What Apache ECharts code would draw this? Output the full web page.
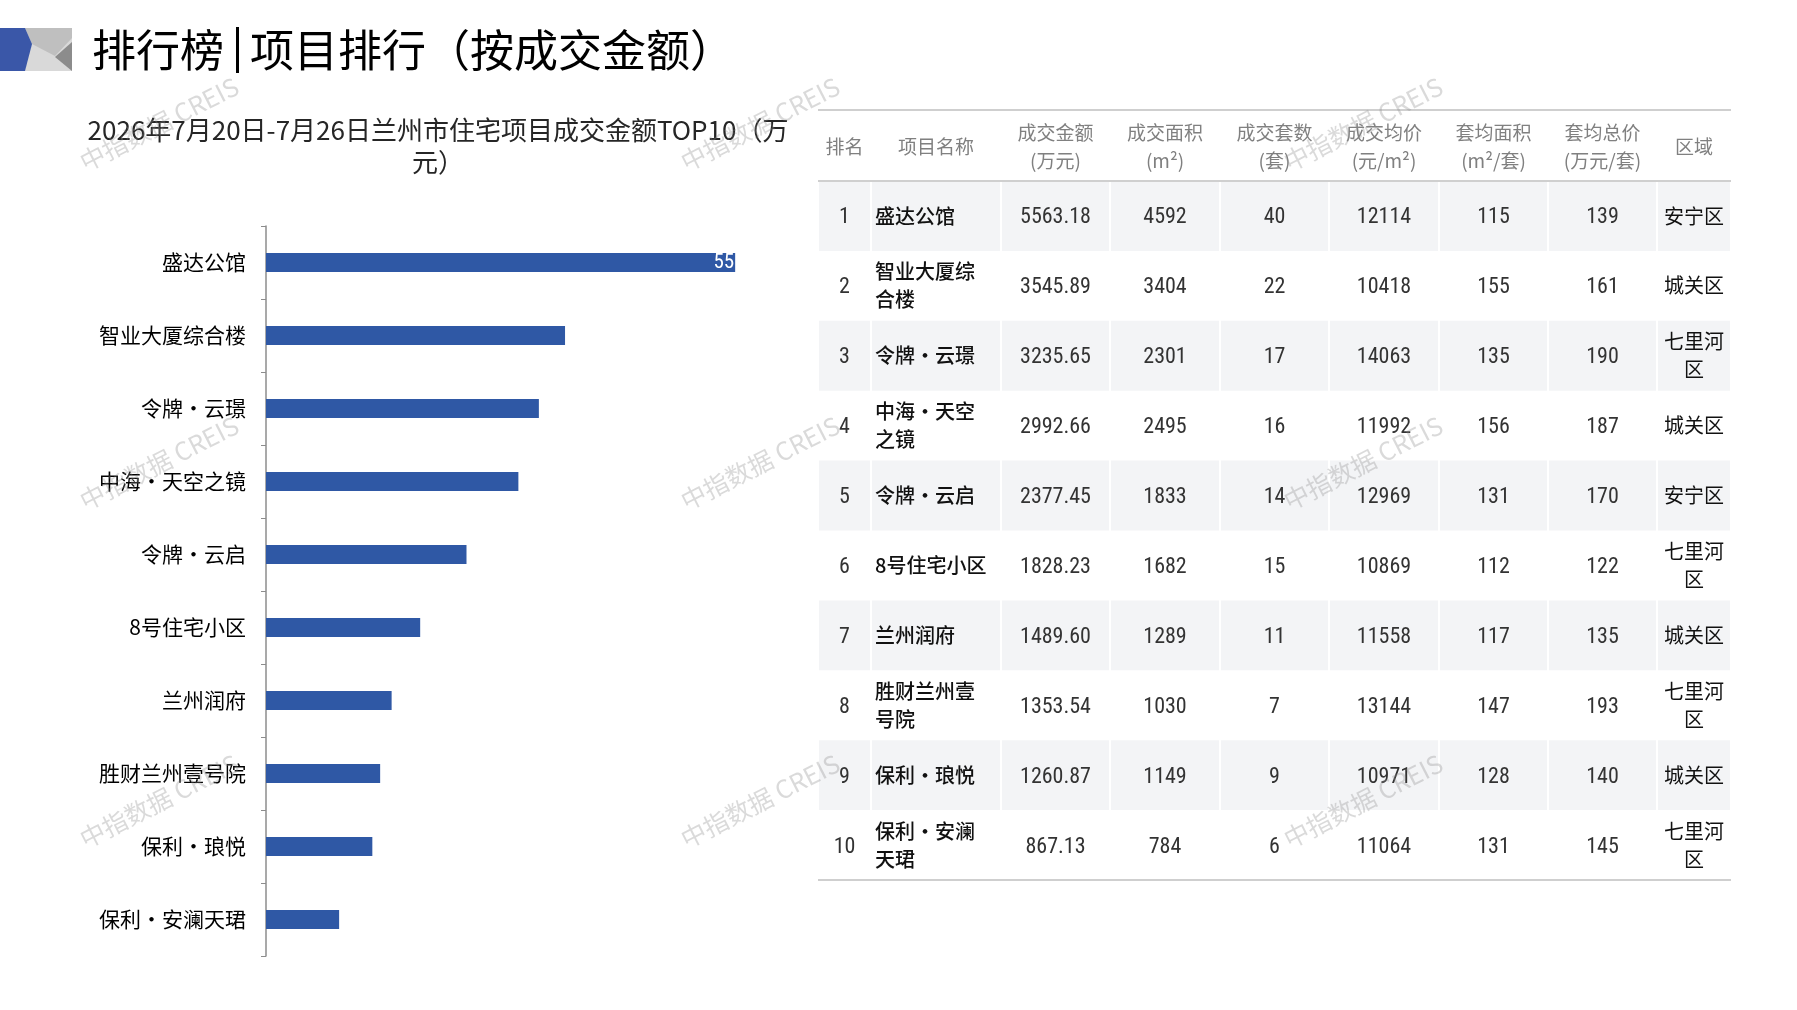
<!DOCTYPE html>
<html>
<head>
<meta charset="utf-8">
<title>排行榜|项目排行（按成交金额）</title>
<script src="https://cdn.jsdelivr.net/npm/echarts@6/dist/echarts.min.js"></script>
<style>
    html, body { margin: 0; padding: 0; background: #fff; }
    #chart { width: 1797px; height: 1010px; }
</style>
</head>
<body>
<div id="chart"></div>
<script>
// 数据
const ranks = [1, 2, 3, 4, 5, 6, 7, 8, 9, 10]
const projects = ["盛达公馆", "智业大厦综合楼", "令牌•云璟", "中海•天空之镜", "令牌•云启",
    "8号住宅小区", "兰州润府", "胜财兰州壹号院", "保利•琅悦", "保利•安澜天珺"]
const amounts = [5563.18, 3545.89, 3235.65, 2992.66, 2377.45, 1828.23, 1489.60, 1353.54, 1260.87, 867.13]
const areas = [4592, 3404, 2301, 2495, 1833, 1682, 1289, 1030, 1149, 784]
const units = [40, 22, 17, 16, 14, 15, 11, 7, 9, 6]
const avgPrices = [12114, 10418, 14063, 11992, 12969, 10869, 11558, 13144, 10971, 11064]
const avgAreas = [115, 155, 135, 156, 131, 112, 117, 147, 128, 131]
const avgTotals = [139, 161, 190, 187, 170, 122, 135, 193, 140, 145]
const districts = ["安宁区", "城关区", "七里河区", "城关区", "安宁区", "七里河区", "城关区", "七里河区", "城关区", "七里河区"]
const barLabels = ["55", "", "", "", "", "", "", "", "", ""]
const headers = ["排名", "项目名称", "成交金额\n(万元)", "成交面积\n(m²)", "成交套数\n(套)",
    "成交均价\n(元/m²)", "套均面积\n(m²/套)", "套均总价\n(万元/套)", "区域"]

const CJK = '"Noto Sans CJK SC", sans-serif'
const NUM = '"Liberation Sans Narrow", "Roboto Condensed", "Noto Sans", sans-serif'

const chart = echarts.init(document.getElementById("chart"))

// 表格布局
const colEdges = [818, 871, 1001, 1110, 1220, 1329, 1439, 1548, 1657, 1731]
const tableTop = 110
const headBottom = 181
const rowH = 69.9

const tableGraphics = []

for (let i = 0; i < ranks.length; i++) {
    if (i % 2 === 0) {
        for (let c = 0; c < colEdges.length - 1; c++) {
            tableGraphics.push({
                type: "rect",
                shape: {
                    x: colEdges[c] + 1,
                    y: headBottom + i * rowH,
                    width: colEdges[c + 1] - colEdges[c] - 2,
                    height: rowH,
                },
                style: { fill: "#f3f4f6" },
                z: 1,
            })
        }
    }
}

const lineStyle = { stroke: "#cfcfcf", lineWidth: 2 }
for (const y of [tableTop, headBottom, headBottom + ranks.length * rowH]) {
    tableGraphics.push({
        type: "line",
        shape: { x1: colEdges[0], y1: y, x2: colEdges[colEdges.length - 1], y2: y },
        style: lineStyle,
        z: 2,
    })
}

headers.forEach((h, c) => {
    tableGraphics.push({
        type: "text",
        x: (colEdges[c] + colEdges[c + 1]) / 2,
        y: (tableTop + headBottom) / 2 + 1,
        style: {
            text: h,
            align: "center",
            verticalAlign: "middle",
            fill: "#808080",
            fontSize: 19,
            lineHeight: 28,
            fontFamily: CJK,
        },
        z: 3,
    })
})

for (let i = 0; i < ranks.length; i++) {
    const cy = headBottom + i * rowH + rowH / 2
    const cells = [
        String(ranks[i]),
        projects[i],
        amounts[i].toFixed(2),
        String(areas[i]),
        String(units[i]),
        String(avgPrices[i]),
        String(avgAreas[i]),
        String(avgTotals[i]),
        districts[i],
    ]
    cells.forEach((t, c) => {
        const isName = c === 1
        const isDistrict = c === 8
        const isText = isName || isDistrict
        const style = {
            text: t,
            align: isName ? "left" : "center",
            verticalAlign: "middle",
            fill: isText ? "#111" : "#333",
            fontSize: isText ? 20 : 22,
            lineHeight: 28,
            fontFamily: isText ? CJK : NUM,
            fontWeight: isName ? 500 : "normal",
        }
        if (isName) {
            style.width = 118
            style.overflow = "break"
        }
        if (isDistrict) {
            style.width = 66
            style.overflow = "break"
        }
        tableGraphics.push({
            type: "text",
            x: isName ? colEdges[c] + 4 : (colEdges[c] + colEdges[c + 1]) / 2,
            y: isText ? cy : cy + 2,
            style: style,
            z: 3,
        })
    })
}

// 标题图标
const headGraphics = [
    { type: "rect", shape: { x: 25, y: 28, width: 47, height: 43 }, style: { fill: "#d9d9d9" } },
    { type: "polygon", shape: { points: [[25, 28], [72, 28], [72, 38], [55, 56], [32, 44]] }, style: { fill: "#bfbfbf" } },
    { type: "polygon", shape: { points: [[72, 42], [55, 57], [72, 71]] }, style: { fill: "#8c8c8c" } },
    { type: "polygon", shape: { points: [[0, 28], [25, 28], [32, 44], [25, 71], [0, 71]] }, style: { fill: "#3a57a8" } },
    {
        type: "text", x: 92, y: 50,
        style: { text: "排行榜", fontSize: 44, fontFamily: CJK, fill: "#000", verticalAlign: "middle" },
    },
    { type: "rect", shape: { x: 236, y: 27, width: 3, height: 46 }, style: { fill: "#000" } },
    {
        type: "text", x: 250, y: 50,
        style: { text: "项目排行（按成交金额）", fontSize: 44, fontFamily: CJK, fill: "#000", verticalAlign: "middle" },
    },
    {
        type: "text", x: 438, y: 146,
        style: {
            text: "2026年7月20日-7月26日兰州市住宅项目成交金额TOP10（万\n元）",
            fontSize: 26, lineHeight: 32, fontFamily: CJK, fill: "#262626",
            align: "center", verticalAlign: "middle",
        },
    },
]

// 水印
const markGraphics = []
for (const wx of [159, 760, 1363]) {
    for (const wy of [124, 463, 801]) {
        markGraphics.push({
            type: "text",
            x: wx,
            y: wy,
            rotation: Math.PI * 27 / 180,
            style: {
                text: "中指数据 CREIS",
                fontSize: 25,
                fontFamily: CJK,
                fill: "rgba(140,140,140,0.32)",
                align: "center",
                verticalAlign: "middle",
            },
            z: 100,
        })
    }
}

const option = {
    animation: false,
    backgroundColor: "#fff",
    grid: {
        left: 266,
        top: 226,
        width: 506,
        height: 730,
    },
    xAxis: {
        type: "value",
        min: 0,
        max: 6000,
        show: false,
    },
    yAxis: {
        type: "category",
        inverse: true,
        data: projects,
        axisLine: { show: true, lineStyle: { color: "#8c8c8c", width: 1.5 } },
        axisTick: { show: true, length: 5, lineStyle: { color: "#8c8c8c" } },
        axisLabel: {
            color: "#000",
            fontSize: 21,
            fontFamily: CJK,
            margin: 20,
        },
    },
    series: [
        {
            type: "bar",
            barWidth: 19,
            itemStyle: { color: "#2f58a5" },
            data: amounts.map((v, i) => ({
                value: v,
                label: {
                    show: barLabels[i] !== "",
                    position: "insideRight",
                    distance: 1,
                    formatter: barLabels[i],
                    color: "#fff",
                    fontSize: 21,
                    fontFamily: NUM,
                },
            })),
        },
    ],
    graphic: headGraphics.concat(tableGraphics, markGraphics),
}

chart.setOption(option)
</script>
</body>
</html>
